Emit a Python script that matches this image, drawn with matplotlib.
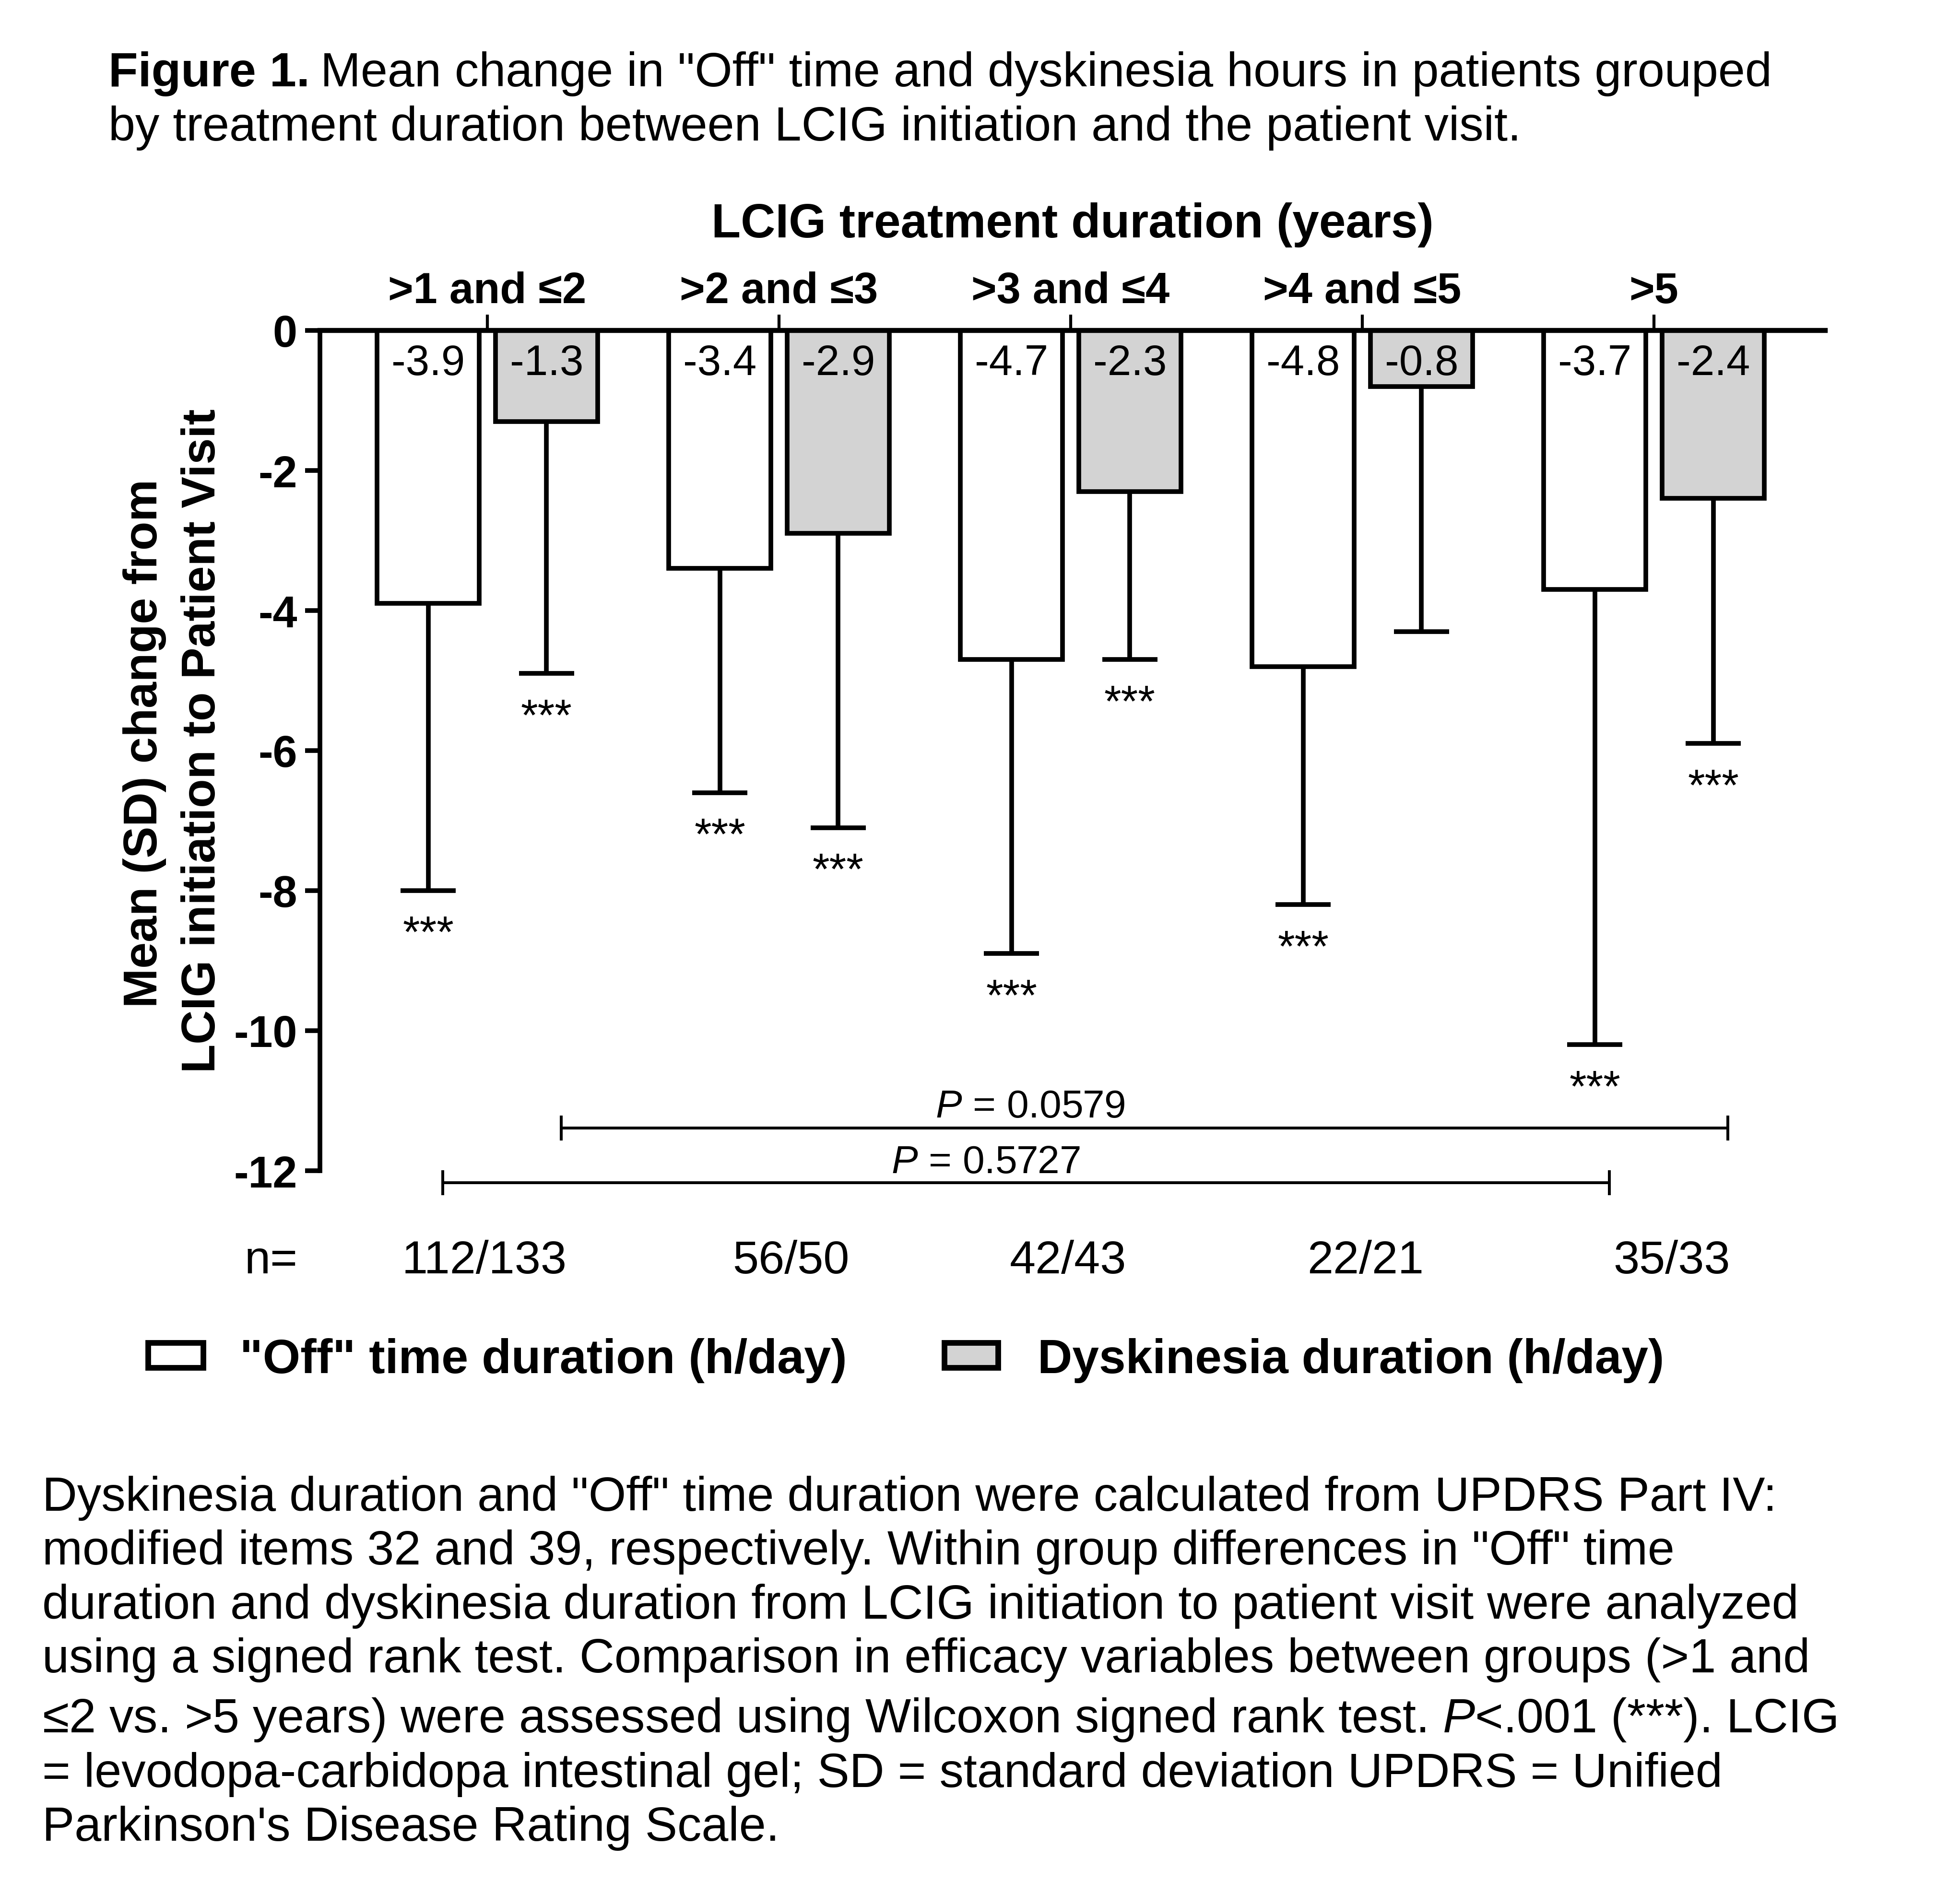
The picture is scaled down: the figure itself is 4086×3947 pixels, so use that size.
import numpy as np
import matplotlib
matplotlib.use("Agg")
import matplotlib.pyplot as plt
from matplotlib.patches import Rectangle

plt.rcParams['font.family'] = ['Liberation Sans', 'DejaVu Sans']
plt.rcParams['mathtext.fontset'] = 'custom'
plt.rcParams['mathtext.rm'] = 'Liberation Sans'
plt.rcParams['mathtext.it'] = 'Liberation Sans:italic'
plt.rcParams['mathtext.bf'] = 'Liberation Sans:bold'
plt.rcParams['axes.unicode_minus'] = False

# data
groups = ['>1 and ≤2', '>2 and ≤3', '>3 and ≤4', '>4 and ≤5', '>5']
n_labels = ['112/133', '56/50', '42/43', '22/21', '35/33']
off_mean = [-3.9, -3.4, -4.7, -4.8, -3.7]
off_sd = [4.1, 3.2, 4.2, 3.4, 6.5]
dysk_mean = [-1.3, -2.9, -2.3, -0.8, -2.4]
dysk_sd = [3.6, 4.2, 2.4, 3.5, 3.5]
off_sig = ['***', '***', '***', '***', '***']
dysk_sig = ['***', '***', '***', '', '***']
p_labels = ['0.0579', '0.5727']
yticks = [0, -2, -4, -6, -8, -10, -12]

W, H = 4086, 3948
DPI = 100

def fx(px):
    return px / W

def fy(py):
    return 1 - py / H

fig = plt.figure(figsize=(W / DPI, H / DPI), dpi=DPI)
ax = fig.add_axes([fx(667), fy(2442), (3805 - 667) / W, (2442 - 690) / H])

x = np.arange(len(groups))
bw = 0.35
sh = 0.203
off_mean = np.array(off_mean)
dysk_mean = np.array(dysk_mean)
off_low = off_mean - np.array(off_sd)
dysk_low = dysk_mean - np.array(dysk_sd)

ax.bar(x - sh, off_mean, bw, color='white', edgecolor='black', linewidth=7, zorder=2)
ax.bar(x + sh, dysk_mean, bw, color='#d3d3d3', edgecolor='black', linewidth=7, zorder=2)

# lower SD only
cw = 0.095
for xs, m, lo in [(x - sh, off_mean, off_low), (x + sh, dysk_mean, dysk_low)]:
    ax.vlines(xs, lo, m, color='black', linewidth=7, zorder=3)
    ax.hlines(lo, xs - cw, xs + cw, color='black', linewidth=7, zorder=3)

n_shift = [-0.01, 0.04, -0.01, 0.01, 0.06]
for i in range(len(groups)):
    ax.text(x[i] - sh, -0.63, f'{off_mean[i]:.1f}', ha='center', va='baseline', fontsize=64, zorder=4)
    ax.text(x[i] + sh, -0.63, f'{dysk_mean[i]:.1f}', ha='center', va='baseline', fontsize=64, zorder=4)
    ax.text(x[i] - sh, off_low[i] - 0.8, off_sig[i], ha='center', va='baseline', fontsize=66)
    ax.text(x[i] + sh, dysk_low[i] - 0.8, dysk_sig[i], ha='center', va='baseline', fontsize=66)
    ax.text(x[i] + n_shift[i], -13.46, n_labels[i], ha='center', va='baseline', fontsize=70, clip_on=False)
ax.text(-0.742, -13.46, 'n=', ha='center', va='baseline', fontsize=70, clip_on=False)

# between-group comparisons (>1 and <=2 vs >5)
brackets = [(0 + sh + 0.05, 4 + sh + 0.05, -11.39, 1.862, -11.23),
            (0 - sh + 0.05, 4 - sh + 0.05, -12.17, 1.709, -12.03)]
for (x0, x1, yb, xt, yt), p in zip(brackets, p_labels):
    ax.plot([x0, x1], [yb, yb], color='black', linewidth=4.3, clip_on=False, solid_capstyle='butt')
    ax.vlines([x0, x1], yb - 0.18, yb + 0.18, color='black', linewidth=4.3, clip_on=False)
    ax.text(xt, yt, r'$\it{P}$ = ' + p, ha='center', va='baseline', fontsize=59, clip_on=False)

ax.set_xlim(-0.574, 4.587)
ax.set_ylim(-12, 0)
ax.spines['bottom'].set_visible(False)
ax.spines['right'].set_visible(False)
ax.spines['top'].set_linewidth(7.5)
ax.spines['left'].set_linewidth(7)
ax.spines['top'].set_zorder(5)

ax.xaxis.set_ticks_position('top')
ax.set_xticks(x, labels=groups, fontweight='bold', fontsize=65)
ax.tick_params(axis='x', direction='out', length=24, width=4.5, pad=4)
ax.set_yticks(yticks, labels=[str(t) for t in yticks], fontweight='bold', fontsize=66)
ax.tick_params(axis='y', direction='out', length=22, width=7, pad=12)

fig.text(fx(2236), fy(495), 'LCIG treatment duration (years)', ha='center', va='baseline',
         fontsize=72, fontweight='bold')

# y axis label, two lines
fig.text(fx(327), fy(1550), 'Mean (SD) change from', rotation=90, rotation_mode='anchor',
         ha='center', va='baseline', fontsize=71, fontweight='bold')
fig.text(fx(448), fy(1545), 'LCIG initiation to Patient Visit', rotation=90, rotation_mode='anchor',
         ha='center', va='baseline', fontsize=71, fontweight='bold')

# legend
fig.add_artist(Rectangle((fx(309), fy(2853)), (424 - 309) / W, (2853 - 2801) / H,
                         transform=fig.transFigure, facecolor='white', edgecolor='black', linewidth=8.5))
fig.text(fx(500), fy(2863), '"Off" time duration (h/day)', va='baseline', fontsize=72.5, fontweight='bold')
fig.add_artist(Rectangle((fx(1969), fy(2853)), (2081 - 1969) / W, (2853 - 2801) / H,
                         transform=fig.transFigure, facecolor='#d3d3d3', edgecolor='black', linewidth=8.5))
fig.text(fx(2163), fy(2863), 'Dyskinesia duration (h/day)', va='baseline', fontsize=72, fontweight='bold')

# title: bold lead-in followed by regular text
renderer = fig.canvas.get_renderer()
t_bold = fig.text(fx(226), fy(180), 'Figure 1.', va='baseline', fontsize=72.5, fontweight='bold')
bb = t_bold.get_window_extent(renderer)
fig.text(bb.x1 / W + 0.0055, fy(180),
         'Mean change in "Off" time and dyskinesia hours in patients grouped',
         va='baseline', fontsize=72.5)
fig.text(fx(226), fy(293), 'by treatment duration between LCIG initiation and the patient visit.',
         va='baseline', fontsize=72.5)

# footnote
foot_lines = ['Dyskinesia duration and "Off" time duration were calculated from UPDRS Part IV:',
              'modified items 32 and 39, respectively. Within group differences in "Off" time',
              'duration and dyskinesia duration from LCIG initiation to patient visit were analyzed',
              'using a signed rank test. Comparison in efficacy variables between groups (>1 and',
              r'≤2 vs. >5 years) were assessed using Wilcoxon signed rank test. $\it{P}$<.001 (***). LCIG',
              '= levodopa-carbidopa intestinal gel; SD = standard deviation UPDRS = Unified',
              "Parkinson's Disease Rating Scale."]
foot_base = [3150, 3262, 3375, 3487, 3612, 3726, 3838]
for line, yb in zip(foot_lines, foot_base):
    fig.text(fx(88), fy(yb), line, va='baseline', fontsize=72.5)

fig.savefig('out.png', dpi=DPI, facecolor='white')
